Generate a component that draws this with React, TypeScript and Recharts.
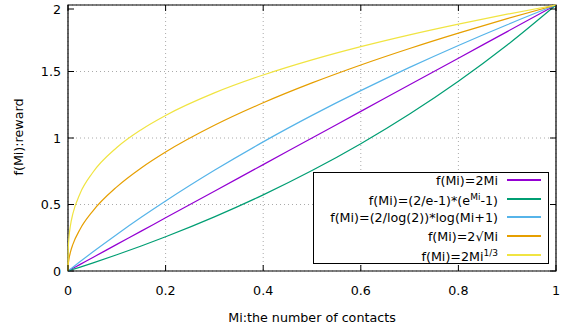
import { CartesianGrid, Line, LineChart, ReferenceArea, XAxis, YAxis } from 'recharts';

const W = 563;
const H = 332;
const margin = { top: 5, right: 7, bottom: 31, left: 8 };
const PLOT_TOP = margin.top;
const PLOT_RIGHT = W - margin.right;

const FONT = '"DejaVu Sans", sans-serif';
const FS = 12.7;

// Mi values (x) and the value of each reward function
const mi = [0, 0.0005, 0.002, 0.005, 0.01, 0.025, 0.05, 0.1, 0.15, 0.2, 0.3, 0.4, 0.5, 0.6, 0.7, 0.8, 0.9, 1];
const linear = [0, 0.001, 0.004, 0.01, 0.02, 0.05, 0.1, 0.2, 0.3, 0.4, 0.6, 0.8, 1.0, 1.2, 1.4, 1.6, 1.8, 2.0];
const expo = [0, 0.0006, 0.0023, 0.0058, 0.0117, 0.0295, 0.0597, 0.1224, 0.1884, 0.2577, 0.4072, 0.5725, 0.7551, 0.9569, 1.18, 1.4265, 1.6989, 2.0];
const logv = [0, 0.0014, 0.0058, 0.0144, 0.0287, 0.0712, 0.1408, 0.275, 0.4033, 0.5261, 0.757, 0.9709, 1.1699, 1.3561, 1.5311, 1.696, 1.852, 2.0];
const sqrtv = [0, 0.0447, 0.0894, 0.1414, 0.2, 0.3162, 0.4472, 0.6325, 0.7746, 0.8944, 1.0954, 1.2649, 1.4142, 1.5492, 1.6733, 1.7889, 1.8974, 2.0];
const cbrt = [0, 0.1587, 0.252, 0.342, 0.4309, 0.5848, 0.7368, 0.9283, 1.0627, 1.1696, 1.3389, 1.4736, 1.5874, 1.6869, 1.7758, 1.8566, 1.931, 2.0];

const xTicks = [0, 0.2, 0.4, 0.6, 0.8, 1];
const yTicks = [0, 0.5, 1, 1.5, 2];

const data = mi.map((m, i) => ({
  mi: m,
  linear: linear[i],
  expo: expo[i],
  logv: logv[i],
  sqrtv: sqrtv[i],
  cbrt: cbrt[i],
}));

const series = [
  { key: 'linear', color: '#9400d3' },
  { key: 'expo', color: '#009e73' },
  { key: 'logv', color: '#56b4e9' },
  { key: 'sqrtv', color: '#e69f00' },
  { key: 'cbrt', color: '#f0e442' },
];

const legendLabels = [
  <>f(Mi)=2Mi</>,
  <>f(Mi)=(2/e-1)*(e<sup style={{ fontSize: 9 }}>Mi</sup>-1)</>,
  <>f(Mi)=(2/log(2))*log(Mi+1)</>,
  <>f(Mi)=2√Mi</>,
  <>f(Mi)=2Mi<sup style={{ fontSize: 9 }}>1/3</sup></>,
];

const XTick = ({ x, y, payload }: any) => (
  <g>
    <line x1={x} y1={y} x2={x} y2={y - 6} stroke="#000" />
    <line x1={x} y1={PLOT_TOP} x2={x} y2={PLOT_TOP + 6} stroke="#000" />
    <text x={x} y={y + 24} textAnchor="middle" fontSize={FS} fontFamily={FONT} fill="#000">
      {payload.value}
    </text>
  </g>
);

const YTick = ({ x, y, payload }: any) => (
  <g>
    <line x1={x} y1={y} x2={x + 6} y2={y} stroke="#000" />
    <line x1={PLOT_RIGHT} y1={y} x2={PLOT_RIGHT - 6} y2={y} stroke="#000" />
    <text x={x - 7} y={y + 4.5} textAnchor="end" fontSize={FS} fontFamily={FONT} fill="#000">
      {payload.value}
    </text>
  </g>
);

export default function App() {
  return (
    <div style={{ position: 'absolute', left: 0, top: 0, width: W, height: H, background: '#fff' }}>
      <LineChart width={W} height={H} data={data} margin={margin}>
        <CartesianGrid stroke="#aaa" strokeDasharray="1 3" />
        <XAxis
          dataKey="mi"
          type="number"
          domain={[0, 1]}
          ticks={xTicks}
          height={30}
          axisLine={false}
          tickLine={false}
          tickSize={0}
          tickMargin={0}
          tick={<XTick />}
          label={{
            content: ({ viewBox }: any) => (
              <text x={viewBox.x + viewBox.width / 2} y={viewBox.y + 51} textAnchor="middle" fontSize={FS} fontFamily={FONT}>
                Mi:the number of contacts
              </text>
            ),
          }}
        />
        <YAxis
          type="number"
          domain={[0, 2]}
          ticks={yTicks}
          width={60}
          axisLine={false}
          tickLine={false}
          tickSize={0}
          tickMargin={0}
          tick={<YTick />}
          label={{
            content: ({ viewBox }: any) => {
              const cx = viewBox.x + 10;
              const cy = viewBox.y + viewBox.height / 2 - 1;
              return (
                <text x={cx} y={cy} textAnchor="middle" dominantBaseline="central" transform={`rotate(-90 ${cx} ${cy})`} fontSize={FS} fontFamily={FONT}>
                  f(Mi):reward
                </text>
              );
            },
          }}
        />
        {series.map((s) => (
          <Line
            key={s.key}
            type="monotone"
            dataKey={s.key}
            stroke={s.color}
            strokeWidth={1.2}
            dot={false}
            isAnimationActive={false}
          />
        ))}
        <ReferenceArea x1={0} x2={1} y1={0} y2={2} fill="none" stroke="#000" strokeWidth={1.2} ifOverflow="visible" />
      </LineChart>
      <div
        style={{
          position: 'absolute',
          left: 313,
          top: 172,
          width: 236,
          height: 92,
          boxSizing: 'border-box',
          border: '1px solid #000',
          background: '#fff',
          fontFamily: FONT,
          fontSize: FS,
          paddingTop: 0,
        }}
      >
        {series.map((s, i) => (
          <div
            key={s.key}
            style={{
              display: 'flex',
              justifyContent: 'flex-end',
              alignItems: 'center',
              height: 18.6,
              marginTop: i === 0 ? -2 : 0,
              paddingRight: 7,
            }}
          >
            <span style={{ lineHeight: '13px', whiteSpace: 'nowrap' }}>{legendLabels[i]}</span>
            <span style={{ display: 'inline-block', width: 34, height: 2, background: s.color, marginLeft: 9 }} />
          </div>
        ))}
      </div>
    </div>
  );
}
